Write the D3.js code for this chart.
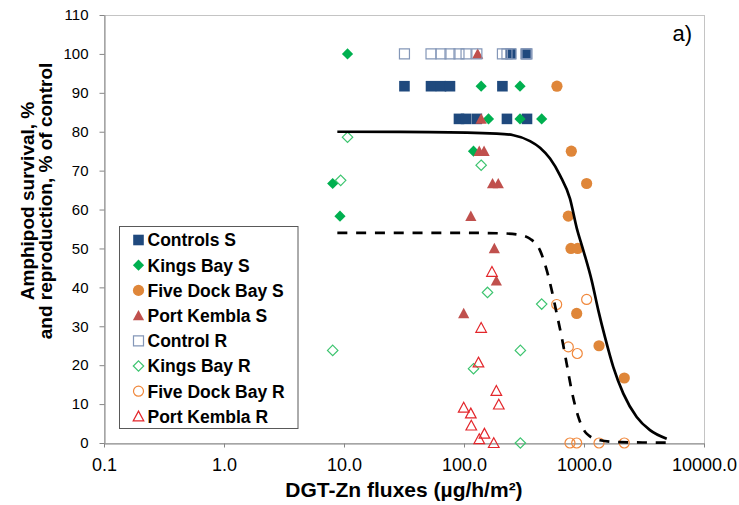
<!DOCTYPE html>
<html>
<head>
<meta charset="utf-8">
<script src="https://cdn.jsdelivr.net/npm/d3@7"></script>
<style>
  body { margin: 0; background: #fff; }
  svg text { font-family: "Liberation Sans", Arial, sans-serif; }
</style>
</head>
<body>
<script>
// values: [DGT-Zn flux, % of control]
var xTicks = [0.1, 1, 10, 100, 1000, 10000];
var xTickLabels = ["0.1", "1.0", "10.0", "100.0", "1000.0", "10000.0"];
var yTicks = [0, 10, 20, 30, 40, 50, 60, 70, 80, 90, 100, 110];

var controlsS = [[246, 100], [329, 100],
  [31.9, 91.7], [53.1, 91.7], [64.3, 91.7], [76.4, 91.7], [209, 91.7],
  [90.8, 83.3], [104, 83.3], [128, 83.3], [228, 83.3], [335, 83.3]];
var kingsBayS = [[10.7, 100], [8.05, 66.7], [9.26, 58.3], [139, 91.7], [293, 91.7],
  [160, 83.3], [293, 83.3], [444, 83.3], [120, 75]];
var fiveDockS = [[595, 91.7], [784, 75], [1052, 66.7], [740, 58.3], [779, 50],
  [886, 50], [869, 33.3], [1334, 25], [2167, 16.7]];
var portKemblaS = [[130, 100], [139, 83.3], [134, 75], [147, 75], [173, 66.7],
  [193, 66.7], [114, 58.3], [179, 50], [186, 41.7], [99.4, 33.3]];

var controlR = [[31.9, 100], [53.1, 100], [64.3, 100], [76.4, 100], [90.8, 100], [104, 100],
  [128, 100], [209, 100], [228, 100], [246, 100], [329, 100], [335, 100]];
var kingsBayR = [[10.7, 78.6], [9.38, 67.5], [8.05, 23.8], [139, 71.4], [157, 38.7],
  [295, 23.8], [120, 19.1], [295, 0], [444, 35.7]];
var fiveDockR = [[592, 35.6], [1052, 36.9], [740, 24.7], [879, 23.0],
  [764, 0], [869, 0], [1334, 0], [2167, 0]];
var portKemblaR = [[171, 44], [139, 29.6], [132, 20.7], [186, 13.4], [195, 9.9], [99.4, 9.1],
  [114, 7.6], [115, 4.5], [148, 2.4], [134, 1.0], [177, 0]];

// fitted curves, points
var fitSurvival = [[8.8, 80], [52, 79.9], [187, 79.5], [258, 79.1], [355, 77.6], [430, 75.9],
  [521, 73.1], [631, 68.8], [764, 62.8], [869, 55.3], [987, 49.5], [1158, 41.8], [1316, 34.1],
  [1496, 27.2], [1755, 19.5], [2127, 12.7], [2748, 6.7], [3548, 3.3], [4890, 1.1]];
var fitRepro = [[8.8, 54], [100, 54], [200, 53.9], [300, 53.4], [355, 52.5], [430, 49.5],
  [489, 44.4], [538, 39.3], [592, 33.3], [652, 27.2], [717, 20.4], [789, 13.5], [897, 6.7],
  [1052, 2.4], [1359, 0.7], [2000, 0.2], [4890, 0.1]];

var series = [
  {name: "Controls S",       data: controlsS,   shape: "square",   fill: "#1F497D", stroke: "none",    s: 5.3},
  {name: "Kings Bay S",      data: kingsBayS,   shape: "diamond",  fill: "#00B050", stroke: "none",    s: 5.6},
  {name: "Five Dock Bay S",  data: fiveDockS,   shape: "circle",   fill: "#DF8639", stroke: "none",    s: 5.6},
  {name: "Port Kembla S",    data: portKemblaS, shape: "triangle", fill: "#C0504D", stroke: "none",    s: 5.6},
  {name: "Control R",        data: controlR,    shape: "square",   fill: "none",    stroke: "#8497B8", s: 5},
  {name: "Kings Bay R",      data: kingsBayR,   shape: "diamond",  fill: "none",    stroke: "#3DC46F", s: 5.2},
  {name: "Five Dock Bay R",  data: fiveDockR,   shape: "circle",   fill: "none",    stroke: "#F0883C", s: 5},
  {name: "Port Kembla R",    data: portKemblaR, shape: "triangle", fill: "none",    stroke: "#E3262B", s: 5.3}
];

function markerPath(shape, s) {
  if (shape == "square") return "M" + (-s) + "," + (-s) + "h" + 2 * s + "v" + 2 * s + "h" + (-2 * s) + "Z";
  if (shape == "diamond") return "M0," + (-s) + "L" + s + ",0L0," + s + "L" + (-s) + ",0Z";
  if (shape == "triangle") return "M0," + (-s) + "L" + s + "," + (s * 0.85) + "L" + (-s) + "," + (s * 0.85) + "Z";
  return "M" + s + ",0A" + s + "," + s + " 0 1,1 " + (-s) + ",0A" + s + "," + s + " 0 1,1 " + s + ",0Z";
}

var W = 739, H = 505;
var plot = {left: 104, right: 704, top: 15, bottom: 443};

var x = d3.scaleLog().domain([0.1, 10000]).range([plot.left, plot.right]);
var y = d3.scaleLinear().domain([0, 110]).range([plot.bottom, plot.top]);

var svg = d3.select("body").append("svg")
    .attr("width", W)
    .attr("height", H);

// frame
svg.append("rect")
    .attr("x", plot.left + 0.5).attr("y", plot.top + 0.5)
    .attr("width", plot.right - plot.left).attr("height", plot.bottom - plot.top)
    .attr("fill", "none").attr("stroke", "#C4C4C4");

// y axis
var yAxis = d3.axisLeft(y).tickValues(yTicks).tickSize(5).tickSizeOuter(0).tickPadding(11)
    .tickFormat(d3.format("d"));
var gy = svg.append("g").attr("transform", "translate(" + (plot.left + 0.5) + ",0)").call(yAxis);
gy.selectAll("path,line").attr("stroke", "#868686");
gy.selectAll("text").attr("font-size", 15).attr("fill", "#000")
    .style("font-family", '"Liberation Sans", Arial, sans-serif');

// x axis
var xAxis = d3.axisBottom(x).tickValues(xTicks).tickSize(4).tickSizeOuter(0).tickPadding(11)
    .tickFormat(function(d, i) { return xTickLabels[i]; });
var gx = svg.append("g").attr("transform", "translate(0," + (plot.bottom + 0.5) + ")").call(xAxis);
gx.selectAll("path,line").attr("stroke", "#868686");
gx.selectAll("text").attr("font-size", 18).attr("fill", "#000")
    .style("font-family", '"Liberation Sans", Arial, sans-serif');

// points
series.forEach(function(sr) {
  svg.append("g").selectAll("path")
      .data(sr.data)
    .enter().append("path")
      .attr("transform", function(d) { return "translate(" + x(d[0]) + "," + y(d[1]) + ")"; })
      .attr("d", markerPath(sr.shape, sr.s))
      .attr("fill", sr.fill)
      .attr("stroke", sr.stroke)
      .attr("stroke-width", 1.2);
});

// fitted curves
var line = d3.line()
    .x(function(d) { return x(d[0]); })
    .y(function(d) { return y(d[1]); })
    .curve(d3.curveMonotoneX);

svg.append("path").datum(fitSurvival)
    .attr("d", line).attr("fill", "none")
    .attr("stroke", "#000").attr("stroke-width", 2.7);

svg.append("path").datum(fitRepro)
    .attr("d", line).attr("fill", "none")
    .attr("stroke", "#000").attr("stroke-width", 2.7)
    .attr("stroke-dasharray", "10,8.8");

// legend
var legend = svg.append("g");
legend.append("rect")
    .attr("x", 119.5).attr("y", 226.5).attr("width", 178.5).attr("height", 202)
    .attr("fill", "#fff").attr("stroke", "#595959");

var item = legend.selectAll("g.item")
    .data(series)
  .enter().append("g")
    .attr("class", "item")
    .attr("transform", function(d, i) { return "translate(138.5," + (240 + i * 25.2) + ")"; });

item.append("path")
    .attr("d", function(d) { return markerPath(d.shape, d.s); })
    .attr("fill", function(d) { return d.fill; })
    .attr("stroke", function(d) { return d.stroke; })
    .attr("stroke-width", 1.2);

item.append("text")
    .attr("x", 9)
    .attr("dy", "0.36em")
    .attr("font-size", 17.5)
    .attr("font-weight", "bold")
    .text(function(d) { return d.name; });

// titles
svg.append("text")
    .attr("x", (plot.left + plot.right) / 2).attr("y", 497)
    .attr("text-anchor", "middle")
    .attr("font-size", 21).attr("font-weight", "bold")
    .text("DGT-Zn fluxes (µg/h/m²)");

var yTitle = svg.append("text")
    .attr("transform", "translate(0,201) rotate(-90)")
    .attr("text-anchor", "middle")
    .attr("font-size", 19).attr("font-weight", "bold");
yTitle.append("tspan").attr("x", 0).attr("y", 33.5).text("Amphipod survival, %");
yTitle.append("tspan").attr("x", 0).attr("y", 51.5).text("and reproduction, % of control");

svg.append("text")
    .attr("x", 692).attr("y", 41)
    .attr("text-anchor", "end")
    .attr("font-size", 22)
    .text("a)");
</script>
</body>
</html>
